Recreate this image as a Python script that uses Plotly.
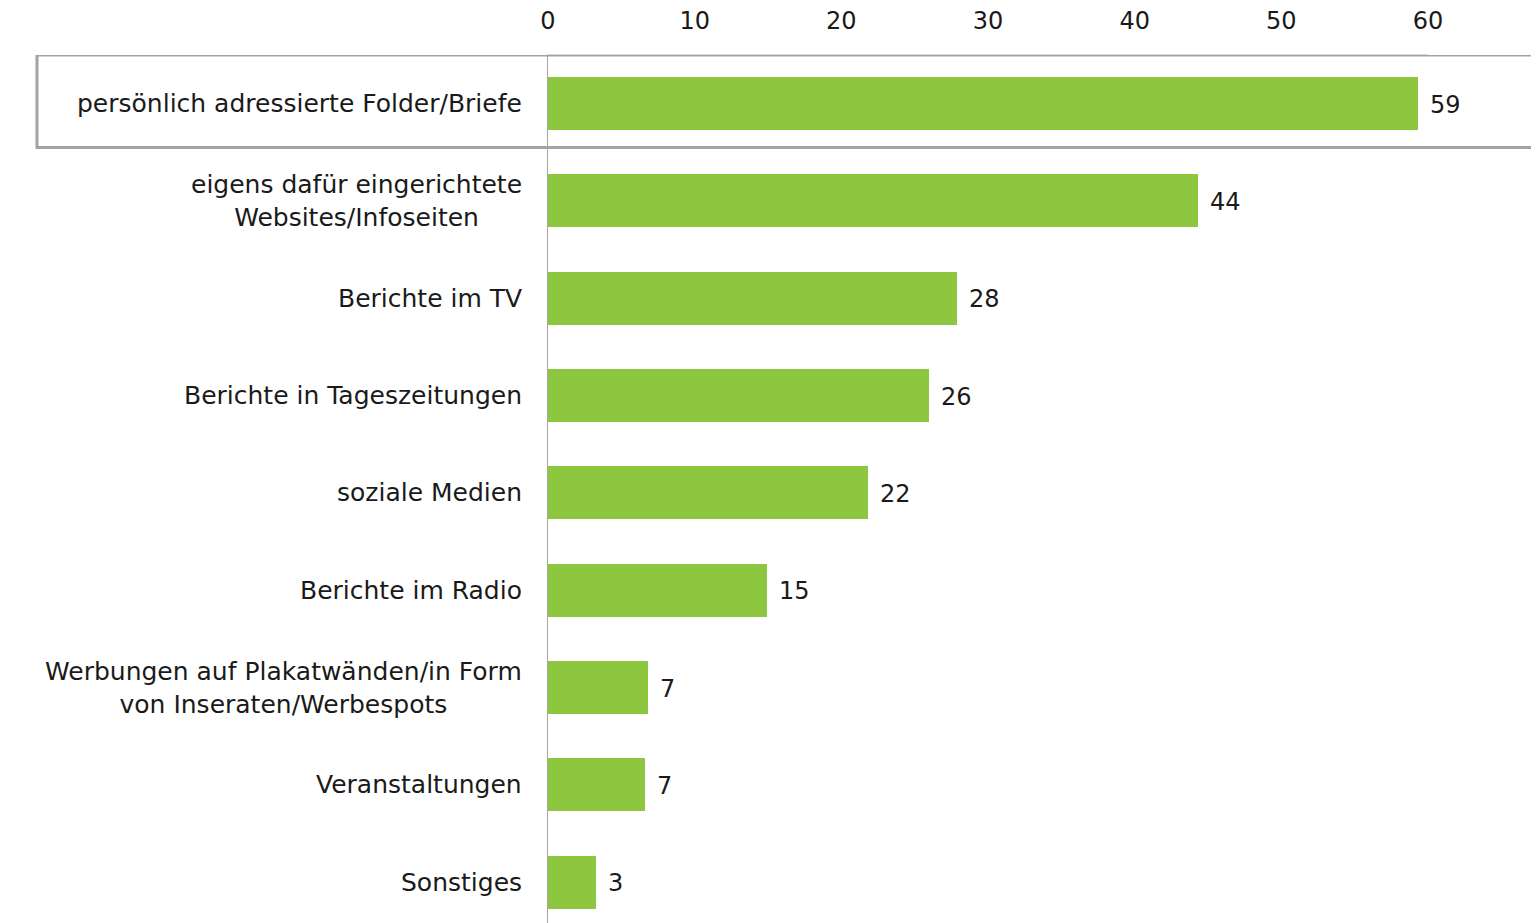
import plotly.graph_objects as go

categories = [
    "persönlich adressierte Folder/Briefe",
    "eigens dafür eingerichtete<br>Websites/Infoseiten",
    "Berichte im TV",
    "Berichte in Tageszeitungen",
    "soziale Medien",
    "Berichte im Radio",
    "Werbungen auf Plakatwänden/in Form<br>von Inseraten/Werbespots",
    "Veranstaltungen",
    "Sonstiges",
]
values = [59.3, 44.3, 27.9, 26.0, 21.8, 14.9, 6.8, 6.6, 3.3]
value_labels = ["59", "44", "28", "26", "22", "15", "7", "7", "3"]
x_ticks = [0, 10, 20, 30, 40, 50, 60]

FONT = "DejaVu Sans"
GREEN = "#8DC63F"
positions = list(range(len(categories)))

fig = go.Figure()
fig.add_trace(go.Bar(
    x=values, y=positions, orientation="h",
    marker=dict(color=GREEN, line=dict(width=0)),
    width=0.545, hoverinfo="skip",
))

for p, cat, v, lab in zip(positions, categories, values, value_labels):
    fig.add_annotation(x=0, y=p, xref="x", yref="y", text=cat, showarrow=False,
                       xanchor="right", yanchor="middle", align="center",
                       xshift=-24, font=dict(family=FONT, size=25, color="#1a1a1a"))
    fig.add_annotation(x=v, y=p, xref="x", yref="y", text=lab, showarrow=False,
                       xanchor="left", yanchor="middle", xshift=10, yshift=-1,
                       font=dict(family=FONT, size=24, color="#1a1a1a"))

# highlight box around the first row
fig.add_shape(type="rect", xref="paper", yref="y",
              x0=-0.5807, x1=1.2, y0=-0.5, y1=0.45,
              line=dict(color="#a3a3a3", width=3), fillcolor="rgba(0,0,0,0)")

fig.update_layout(
    width=1531, height=915,
    margin=dict(l=540, r=111, t=47, b=0, pad=0, autoexpand=False),
    paper_bgcolor="white", plot_bgcolor="white",
    showlegend=False,
    bargap=0,
    xaxis=dict(side="top", range=[0, 60], tickvals=x_ticks, showgrid=False,
               zeroline=False, showline=True, linecolor="#d9d9d9", linewidth=1,
               ticks="outside", ticklen=15, tickcolor="rgba(0,0,0,0)",
               tickfont=dict(family=FONT, size=24, color="#1a1a1a"),
               automargin=False, fixedrange=True),
    yaxis=dict(range=[8.42, -0.5], showticklabels=False, ticks="",
               showgrid=False, zeroline=False, showline=True,
               linecolor="#a6a6a6", linewidth=1, automargin=False,
               fixedrange=True),
)

fig.write_html("out.html")
